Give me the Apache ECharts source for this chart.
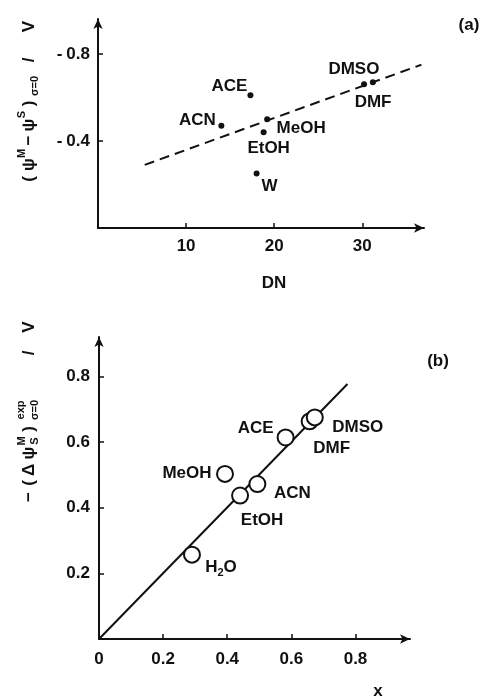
<!DOCTYPE html>
<html>
<head>
<meta charset="utf-8">
<title>Potential drop vs donor number and x</title>
<script src="https://cdn.jsdelivr.net/npm/echarts@6/dist/echarts.min.js"></script>
<style>
  html, body { margin: 0; padding: 0; background: #fff; }
  #chart { width: 485px; height: 698px; }
</style>
</head>
<body>
<div id="chart"></div>
<script>
// Panel (a): potential drop at the pzc against the solvent donor number
const solventsA = ['ACE', 'ACN', 'MeOH', 'EtOH', 'W', 'DMSO', 'DMF'];
const donorNumber = [17.3, 14.0, 19.2, 18.8, 18.0, 31.2, 30.2];
const potentialDropA = [-0.61, -0.47, -0.50, -0.44, -0.25, -0.67, -0.66];
const fitLineDN = [5.3, 36.7];
const fitLineDropA = [-0.29, -0.75];
const dnTicks = [10, 20, 30];
const dropTicksA = [-0.8, -0.4];

// Panel (b): experimental potential drop against x
const solventsB = ['H2O', 'EtOH', 'ACN', 'MeOH', 'ACE', 'DMF', 'DMSO'];
const fractionX = [0.29, 0.44, 0.494, 0.393, 0.582, 0.657, 0.673];
const potentialDropB = [0.257, 0.437, 0.472, 0.503, 0.614, 0.663, 0.675];
const fitLineX = [0, 0.775];
const fitLineDropB = [0, 0.777];
const xLabelsB = [0, 0.2, 0.4, 0.6, 0.8];
const xTicksB = [0.2, 0.4, 0.6, 0.8];
const dropTicksB = [0.2, 0.4, 0.6, 0.8];

const INK = '#111';
const FONT = "'Liberation Sans', Arial, sans-serif";
const FS = 17;

// label placement around each marker (pixels from the marker centre)
const labelOffsetA = {
  ACE: [-21, -9], ACN: [-24, -5], MeOH: [34, 9], EtOH: [5, 16],
  W: [13, 13], DMSO: [-19, -13], DMF: [9, 18]
};
const labelOffsetB = {
  H2O: [29, 13], EtOH: [22, 25], ACN: [35, 9], MeOH: [-38, -1],
  ACE: [-30, -9], DMF: [22, 27], DMSO: [43, 10]
};

const zip = (xs, ys) => xs.map((v, i) => [v, ys[i]]);

const textBase = { color: INK, fontFamily: FONT, fontSize: FS, fontWeight: 'bold' };

function tickStyle(values) {
  return { show: true, inside: true, length: 5, lineStyle: { color: INK, width: 1.5 }, customValues: values };
}

function axisLine(symbol) {
  return {
    show: true, onZero: false,
    lineStyle: { color: INK, width: 2 },
    symbol: symbol,
    symbolSize: [7, 10]
  };
}

// tick labels: a small gap after the minus sign, as in typeset figures
function fmt(v) {
  const r = Math.round(v * 10) / 10;
  if (r < 0) return '{m|-}{n|' + Math.abs(r) + '}';
  return '{n|' + r + '}';
}
const tickRich = {
  m: Object.assign({}, textBase, { padding: [0, 4, 0, 0] }),
  n: Object.assign({}, textBase)
};

// vertical axis titles: pieces laid out along the reading direction (bottom to top)
function rotatedTitle(cx, startY, pieces) {
  return {
    type: 'group',
    x: cx, y: startY,
    rotation: Math.PI / 2,
    children: pieces.map(p => ({
      type: 'text',
      x: p.at, y: p.dy || 0,
      style: {
        text: p.t,
        fill: INK,
        fontFamily: FONT,
        fontWeight: 'bold',
        fontSize: p.s || FS,
        align: 'center',
        verticalAlign: 'middle'
      }
    }))
  };
}

function plainText(x, y, t, size) {
  return {
    type: 'text', x: x, y: y,
    style: {
      text: t, fill: INK, fontFamily: FONT, fontWeight: 'bold',
      fontSize: size || FS, align: 'center', verticalAlign: 'middle'
    }
  };
}

const subRich = {
  m: Object.assign({}, textBase, { lineHeight: 22 }),
  s: Object.assign({}, textBase, { fontSize: 11, lineHeight: 12, verticalAlign: 'bottom' })
};
function chemName(name) {
  return name.replace(/(\d+)|([^\d]+)/g, (all, d, t) => d ? '{s|' + d + '}' : '{m|' + t + '}');
}

const chart = echarts.init(document.getElementById('chart'), null, { renderer: 'canvas' });

chart.setOption({
  animation: false,
  backgroundColor: '#fff',
  grid: [
    { left: 98, top: 19, width: 326, height: 209, outerBoundsMode: 'none' },
    { left: 99, top: 337, width: 311, height: 302, outerBoundsMode: 'none' }
  ],
  xAxis: [
    {
      type: 'value', gridIndex: 0, min: 0, max: 37,
      splitLine: { show: false },
      axisLine: axisLine(['none', 'arrow']),
      axisTick: tickStyle(dnTicks),
      axisLabel: Object.assign({}, textBase, { margin: 10, customValues: dnTicks })
    },
    {
      type: 'value', gridIndex: 1, min: 0, max: 0.97,
      splitLine: { show: false },
      axisLine: axisLine(['none', 'arrow']),
      axisTick: tickStyle(xTicksB),
      axisLabel: Object.assign({}, textBase, { margin: 12, customValues: xLabelsB, formatter: fmt, rich: tickRich })
    }
  ],
  yAxis: [
    {
      type: 'value', gridIndex: 0, min: -0.96, max: 0, inverse: true,
      splitLine: { show: false },
      axisLine: axisLine(['none', 'arrow']),
      axisTick: tickStyle(dropTicksA),
      axisLabel: Object.assign({}, textBase, { margin: 8, customValues: dropTicksA, formatter: fmt, rich: tickRich })
    },
    {
      type: 'value', gridIndex: 1, min: 0, max: 0.92,
      splitLine: { show: false },
      axisLine: axisLine(['none', 'arrow']),
      axisTick: tickStyle(dropTicksB),
      axisLabel: Object.assign({}, textBase, { margin: 9, customValues: dropTicksB, formatter: fmt, rich: tickRich })
    }
  ],
  series: [
    {
      type: 'line', xAxisIndex: 0, yAxisIndex: 0,
      data: zip(fitLineDN, fitLineDropA),
      showSymbol: false, symbol: 'none', silent: true,
      lineStyle: { color: INK, width: 2, type: [10, 6] },
      z: 2
    },
    {
      type: 'scatter', xAxisIndex: 0, yAxisIndex: 0,
      symbol: 'circle', symbolSize: 6,
      itemStyle: { color: INK, opacity: 1 },
      data: solventsA.map((n, i) => ({
        name: n, value: [donorNumber[i], potentialDropA[i]],
        label: { offset: labelOffsetA[n] }
      })),
      label: Object.assign({
        show: true, position: 'inside', formatter: '{b}',
        align: 'center', verticalAlign: 'middle'
      }, textBase),
      z: 3
    },
    {
      type: 'line', xAxisIndex: 1, yAxisIndex: 1,
      data: zip(fitLineX, fitLineDropB),
      showSymbol: false, symbol: 'none', silent: true,
      lineStyle: { color: INK, width: 2 },
      z: 2
    },
    {
      type: 'scatter', xAxisIndex: 1, yAxisIndex: 1,
      symbol: 'circle', symbolSize: 16,
      itemStyle: { color: '#fff', borderColor: INK, borderWidth: 2, opacity: 1 },
      data: solventsB.map((n, i) => ({
        name: n, value: [fractionX[i], potentialDropB[i]],
        label: { offset: labelOffsetB[n] }
      })),
      label: {
        show: true, position: 'inside',
        formatter: p => chemName(p.name),
        rich: subRich,
        align: 'center', verticalAlign: 'middle'
      },
      z: 3
    }
  ],
  graphic: [
    plainText(469, 25, '(a)'),
    plainText(438, 361, '(b)'),
    plainText(274, 283, 'DN'),
    plainText(378, 691, 'x'),
    rotatedTitle(29, 185, [
      { t: '(', at: 6 }, { t: 'ψ', at: 20.5 }, { t: 'M', at: 31.5, dy: -7, s: 11 },
      { t: '−', at: 44.5 }, { t: 'ψ', at: 60 }, { t: 'S', at: 70.5, dy: -7, s: 11 },
      { t: ')', at: 81.5 }, { t: 'σ=0', at: 99, dy: 6, s: 11 },
      { t: '/', at: 125 }, { t: 'V', at: 158.5 }
    ]),
    rotatedTitle(29, 503, [
      { t: '−', at: 6 }, { t: '(', at: 20 }, { t: 'Δ', at: 33 }, { t: 'ψ', at: 50 },
      { t: 'M', at: 62, dy: -7, s: 11 }, { t: 'S', at: 62, dy: 6, s: 11 },
      { t: ')', at: 74 }, { t: 'exp', at: 93, dy: -8, s: 11 }, { t: 'σ=0', at: 93, dy: 6, s: 11 },
      { t: '/', at: 150 }, { t: 'V', at: 176 }
    ])
  ]
});
</script>
</body>
</html>
